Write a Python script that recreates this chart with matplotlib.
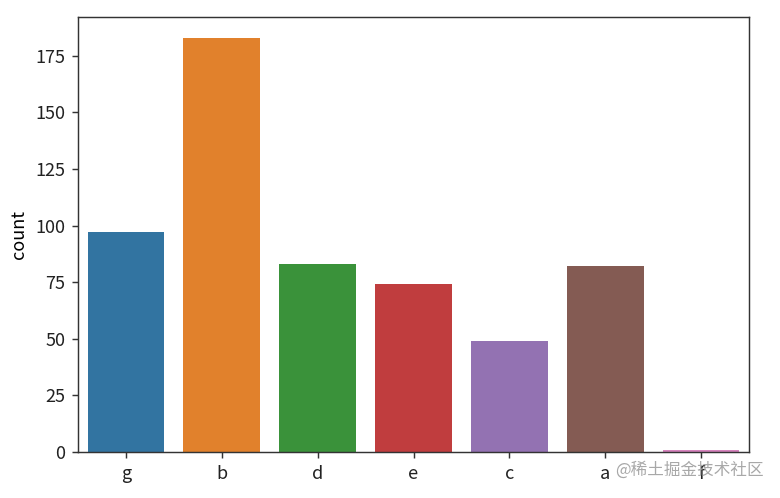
import matplotlib
matplotlib.use("Agg")
import matplotlib.pyplot as plt
import seaborn as sns

categories = ["g", "b", "d", "e", "c", "a", "f"]
counts = [97, 183, 83, 74, 49, 82, 1]

plt.rcParams['font.family'] = ['Noto Sans CJK SC', 'DejaVu Sans']

base = sns.color_palette("tab10", 7)
colors = [sns.desaturate(c, 0.75) for c in base]

fig = plt.figure(figsize=(6.0, 498 / 130), dpi=130)
ax = fig.add_axes([78 / 780, 46 / 498, (749 - 78) / 780, (452 - 17) / 498])
ax.bar(range(len(categories)), counts, width=0.8, color=colors)
ax.set_xticks(range(len(categories)))
ax.set_xticklabels(categories)
ax.set_xlim(-0.5, len(categories) - 0.5)
ax.set_ylim(0, max(counts) * 1.05)
ax.set_yticks([0, 25, 50, 75, 100, 125, 150, 175])
ax.set_ylabel("count")
for s in ax.spines.values():
    s.set_color("#333333")
ax.tick_params(colors="#333333", labelcolor="#222222")

fig.text(764 / 780, 1 - 470 / 498, "@稀土掘金技术社区", ha="right", va="center",
         fontsize=9.2, color="#a8a8a8")

fig.savefig("out.png", dpi=130)
